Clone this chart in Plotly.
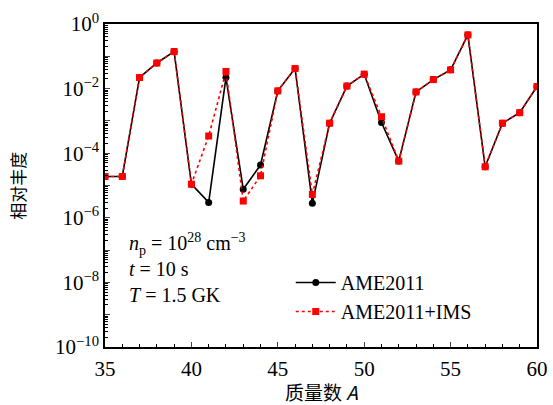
import plotly.graph_objects as go

mass_number = [35, 36, 37, 38, 39, 40, 41, 42, 43, 44, 45, 46, 47, 48, 49, 50, 51, 52, 53, 54, 55, 56, 57, 58, 59, 60]
ame2011 = [1.9e-5, 1.9e-5, 0.022, 0.062, 0.14, 1.1e-5, 3.0e-6, 0.022, 7.7e-6, 4.3e-5, 0.0085, 0.042, 2.8e-6,
           8.5e-4, 0.012, 0.028, 8.9e-4, 5.7e-5, 0.0079, 0.019, 0.038, 0.46, 3.8e-5, 8.5e-4, 1.8e-3, 0.0116]
ame2011_ims = [1.9e-5, 1.9e-5, 0.022, 0.062, 0.14, 1.1e-5, 3.4e-4, 0.034, 3.3e-6, 2.0e-5, 0.0085, 0.042, 5.3e-6,
               8.5e-4, 0.012, 0.028, 1.35e-3, 5.7e-5, 0.0079, 0.019, 0.038, 0.46, 3.8e-5, 8.5e-4, 1.8e-3, 0.0116]

x_ticks = [35, 40, 45, 50, 55, 60]
y_tick_exps = list(range(-10, 1))
y_tick_vals = [10.0 ** e for e in y_tick_exps]
y_tick_text = [("10<sup>%s</sup>" % (str(e).replace("-", "−"))) if e % 2 == 0 else "" for e in y_tick_exps]

SERIF = "Liberation Serif"
CJK = "Noto Sans CJK SC"

fig = go.Figure()
fig.add_trace(go.Scatter(
    x=mass_number, y=ame2011, mode="lines+markers", name="AME2011",
    line=dict(color="black", width=1.6),
    marker=dict(symbol="circle", size=7, color="black"),
))
fig.add_trace(go.Scatter(
    x=mass_number, y=ame2011_ims, mode="lines+markers", name="AME2011+IMS",
    line=dict(color="red", width=1.6, dash="3px,3px"),
    marker=dict(symbol="square", size=7, color="red"),
))

fig.update_layout(
    width=553, height=405,
    margin=dict(l=105, r=16, t=24, b=58),
    paper_bgcolor="white", plot_bgcolor="white",
    font=dict(family=SERIF, size=21, color="black"),
    showlegend=True,
    legend=dict(
        x=0.43, y=0.26, xanchor="left", yanchor="top",
        bgcolor="rgba(0,0,0,0)", font=dict(family=SERIF, size=20),
        itemwidth=40, tracegroupgap=0,
    ),
    xaxis=dict(
        range=[35, 60], tickvals=x_ticks, ticks="inside", ticklen=5, tickwidth=1,
        showline=True, linecolor="black", linewidth=1.5, mirror=True,
        showgrid=False, zeroline=False, ticklabelstandoff=2, automargin=False,
        minor=dict(ticks="inside", ticklen=3, dtick=1, tickcolor="black", showgrid=False),
        tickfont=dict(family=SERIF, size=21),
    ),
    yaxis=dict(
        type="log", range=[-10, 0], tickvals=y_tick_vals, ticktext=y_tick_text,
        ticks="inside", ticklen=5, tickwidth=1,
        showline=True, linecolor="black", linewidth=1.5, mirror=True,
        showgrid=False, zeroline=False, automargin=False,
        minor=dict(ticks="inside", ticklen=3, dtick="D1", tickcolor="black", showgrid=False),
        tickfont=dict(family=SERIF, size=21),
    ),
)

# axis titles
fig.add_annotation(text="质量数 <i>A</i>", xref="paper", yref="paper", x=0.5, y=-0.138,
                   xanchor="center", yanchor="middle", showarrow=False,
                   font=dict(family=CJK + ", " + SERIF, size=19, color="black"))
fig.add_annotation(text="相对丰度", xref="paper", yref="paper", x=-0.203, y=0.5,
                   xanchor="center", yanchor="middle", showarrow=False, textangle=-90,
                   font=dict(family=CJK, size=17, color="black"))

# condition text block
cond_text = "<br>".join([
    "<i>n</i><sub>p</sub> = 10<sup>28</sup> cm<sup>−3</sup>",
    "<i>t</i> = 10 s",
    "<i>T</i> = 1.5 GK",
])
fig.add_annotation(text=cond_text, xref="paper", yref="paper", x=0.05, y=0.245,
                   xanchor="left", yanchor="middle", align="left", showarrow=False,
                   font=dict(family=SERIF, size=20, color="black"))

fig.write_html("out.html")
